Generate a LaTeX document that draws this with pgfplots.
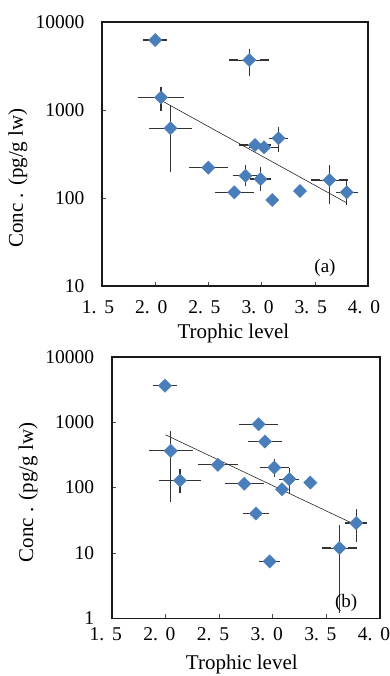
\documentclass[border=0pt]{standalone}
\usepackage{fontspec}
\setmainfont{Liberation Serif}
\usepackage{pgfplots}
\usepackage{pgfplotstable}
\pgfplotsset{compat=1.18}
\definecolor{mkblue}{HTML}{4A7EBB}
\definecolor{errgray}{HTML}{333333}

\pgfplotstableread{
x y xe yp ym
2.00 6240 0.068 0 0
2.884 3700 0.146 700 930
2.055 1390 0.17 225 300
2.144 620 0.16 400 399
2.499 221 0.14 0 0
2.743 116 0.14 0 0
2.849 179 0.073 33 26
2.938 400 0.11 0 0
3.023 377 0.10 0 0
2.99 164 0.06 36 30
3.10 95 0 0 0
3.159 477 0.05 100 104
3.361 120 0 0 0
3.638 160 0.13 52 63
3.80 116 0.063 22 23
}\dataA

\pgfplotstableread{
x y xe yp ym
1.996 3600 0.072 0 0
2.869 929 0.14 0 0
2.928 504 0.12 0 0
2.05 363 0.164 259 293
2.137 128 0.15 38 32
2.49 222 0.143 0 0
2.735 114 0.14 0 0
2.844 40 0.078 0 0
2.972 7.4 0.057 0 0
3.015 202 0.093 30 30
3.087 94 0 0 0
3.155 134 0.05 38 42
3.351 119 0 0 0
3.622 11.9 0.125 10.7 10.5
3.778 28.6 0.058 11 11.3
}\dataB

\begin{document}
\begin{tikzpicture}
\begin{axis}[
  scale only axis,
  at={(102pt,-22pt)}, anchor=north west,
  width=266pt, height=264pt,
  ymode=log,
  xmin=1.5, xmax=4,
  ymin=10, ymax=10000,
  xtick={1.5,2,2.5,3,3.5,4},
  xticklabels={1.\hspace{0.4em}5,2.\hspace{0.4em}0,2.\hspace{0.4em}5,3.\hspace{0.4em}0,3.\hspace{0.4em}5,4.\hspace{0.4em}0},
  ytick={10,100,1000,10000},
  yticklabels={10,100,1000,10000},
  yminorticks=false,
  tick align=inside,
  tick pos=left,
  major tick length=4pt,
  tick style={black!70, line width=0.6pt},
  axis line style={line width=1.6pt, black!90},
  tick label style={font=\fontsize{19.5}{22}\selectfont},
  label style={font=\fontsize{21}{24}\selectfont},
  xticklabel style={yshift=-11pt, xshift=-4pt},
  yticklabel style={xshift=-14pt},
  xlabel={Trophic level},
  ylabel={Conc . (pg/g lw)},
  xlabel style={at={(axis description cs:0.494,-0.178)}, anchor=center},
  ylabel style={at={(axis description cs:-0.316,0.409)}, anchor=center},
]
\addplot[only marks, mark=none, forget plot,
  error bars/.cd, x dir=both, x explicit, y dir=both, y explicit,
  error bar style={draw=errgray, solid, line width=0.9pt},
  error mark options={draw=errgray, solid, line width=1.2pt, mark size=4.5pt}]
  table[x=x,y=y,x error=xe,y error plus=yp,y error minus=ym] {\dataA};
\addplot[only marks, mark=square*, mark size=4.7pt,
  mark options={fill=mkblue, draw=mkblue, rotate=45}] table[x=x,y=y] {\dataA};
\addplot[black!85, line width=0.6pt] coordinates {(2.0,1400) (3.8,88)};
\node[font=\fontsize{19}{22}\selectfont] at (axis cs:3.596,16) {(a)};
\end{axis}

\begin{axis}[
  scale only axis,
  at={(111.7pt,-356.7pt)}, anchor=north west,
  width=268.3pt, height=261.6pt,
  ymode=log,
  xmin=1.5, xmax=4,
  ymin=1, ymax=10000,
  xtick={1.5,2,2.5,3,3.5,4},
  xticklabels={1.\hspace{0.4em}5,2.\hspace{0.4em}0,2.\hspace{0.4em}5,3.\hspace{0.4em}0,3.\hspace{0.4em}5,4.\hspace{0.4em}0},
  ytick={1,10,100,1000,10000},
  yticklabels={1,10,100,1000,10000},
  yminorticks=false,
  tick align=inside,
  tick pos=left,
  major tick length=4pt,
  tick style={black!70, line width=0.6pt},
  axis line style={line width=1.6pt, black!90},
  tick label style={font=\fontsize{19.5}{22}\selectfont},
  label style={font=\fontsize{21}{24}\selectfont},
  xticklabel style={yshift=-6pt, xshift=-6pt},
  yticklabel style={xshift=-14pt},
  xlabel={Trophic level},
  ylabel={Conc . (pg/g lw)},
  xlabel style={at={(axis description cs:0.485,-0.178)}, anchor=center},
  ylabel style={at={(axis description cs:-0.312,0.481)}, anchor=center},
]
\addplot[only marks, mark=none, forget plot,
  error bars/.cd, x dir=both, x explicit, y dir=both, y explicit,
  error bar style={draw=errgray, solid, line width=0.9pt},
  error mark options={draw=errgray, solid, line width=1.2pt, mark size=4.5pt}]
  table[x=x,y=y,x error=xe,y error plus=yp,y error minus=ym] {\dataB};
\addplot[only marks, mark=square*, mark size=4.7pt,
  mark options={fill=mkblue, draw=mkblue, rotate=45}] table[x=x,y=y] {\dataB};
\addplot[black!85, line width=0.6pt] coordinates {(2.0,640) (3.77,27)};
\node[font=\fontsize{19}{22}\selectfont] at (axis cs:3.685,1.69) {(b)};
\end{axis}
\pgfresetboundingbox
\path (0,0) rectangle (390pt,-676pt);
\end{tikzpicture}
\end{document}
